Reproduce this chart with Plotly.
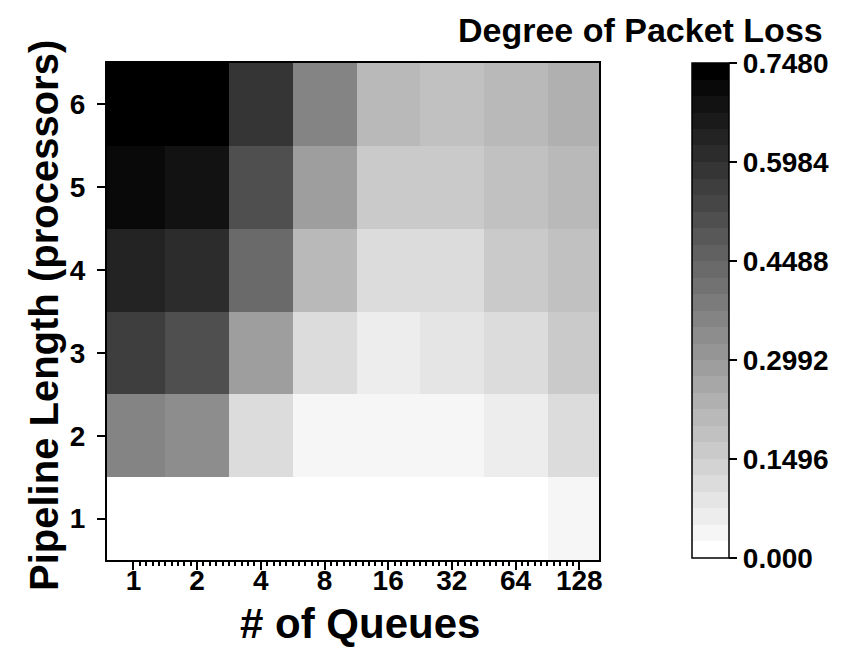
import numpy as np
import plotly.graph_objects as go

# ---- data ----
queues = [1, 2, 4, 8, 16, 32, 64, 128]
queue_labels = ["1", "2", "4", "8", "16", "32", "64", "128"]
pipeline = [1, 2, 3, 4, 5, 6]
loss_p1 = [0.0, 0.0, 0.0, 0.0, 0.0, 0.0, 0.0, 0.037]
loss_p2 = [0.362, 0.337, 0.112, 0.037, 0.037, 0.037, 0.062, 0.112]
loss_p3 = [0.561, 0.511, 0.287, 0.112, 0.062, 0.087, 0.112, 0.162]
loss_p4 = [0.636, 0.611, 0.436, 0.212, 0.112, 0.112, 0.162, 0.187]
loss_p5 = [0.711, 0.686, 0.511, 0.287, 0.162, 0.162, 0.187, 0.212]
loss_p6 = [0.736, 0.736, 0.586, 0.362, 0.212, 0.187, 0.212, 0.237]
cbar_vals = [0.0, 0.1496, 0.2992, 0.4488, 0.5984, 0.748]
cbar_text = ["0.000", "0.1496", "0.2992", "0.4488", "0.5984", "0.7480"]
z_max = 0.748
n_levels = 30

z = [loss_p1, loss_p2, loss_p3, loss_p4, loss_p5, loss_p6]
xpos = np.log2(queues)

# stepped grey colorscale
cs = []
for k in range(n_levels):
    g = int(round(255 * (1 - k / (n_levels - 1))))
    c = f"rgb({g},{g},{g})"
    cs.append([k / n_levels, c])
    cs.append([(k + 1) / n_levels, c])

FONT = "Liberation Sans, Arial, sans-serif"

def f(size):
    return dict(family=FONT, size=size, color="black", weight="bold")

minor_vals = [i + k / 10 for i in range(7) for k in range(1, 10)]

L, T, W, H = 99, 55, 492, 497

fig = go.Figure(go.Heatmap(
    x=xpos, y=pipeline, z=z,
    zmin=0, zmax=z_max, colorscale=cs,
    colorbar=dict(
        x=(684 - L) / W, xanchor="left",
        y=(552 - 550) / H, yanchor="bottom",
        len=495 / H, lenmode="fraction",
        thickness=37, thicknessmode="pixels",
        xpad=0, ypad=0,
        outlinecolor="black", outlinewidth=1.5,
        tickmode="array", tickvals=cbar_vals, ticktext=cbar_text,
        ticks="outside", ticklen=8, tickwidth=2, tickcolor="black",
        tickfont=f(28),
    ),
))

fig.update_layout(
    width=848, height=647,
    margin=dict(l=L, r=848 - L - W, t=T, b=647 - T - H),
    paper_bgcolor="white", plot_bgcolor="white",
    font=f(28),
    xaxis=dict(
        range=[-0.415, 7.31],
        tickmode="array", tickvals=xpos, ticktext=queue_labels,
        ticks="outside", ticklen=8, tickwidth=2, tickcolor="black",
        tickfont=f(28), ticklabelstandoff=-14,
        showline=True, linecolor="black", linewidth=2, mirror=True,
        showgrid=False, zeroline=False,
        minor=dict(tickmode="array", tickvals=minor_vals, ticks="outside",
                   ticklen=4, tickwidth=1.5, tickcolor="black", showgrid=False),
    ),
    yaxis=dict(
        range=[0.5, 6.5],
        tickmode="array", tickvals=pipeline,
        ticks="outside", ticklen=8, tickwidth=2, tickcolor="black",
        tickfont=f(28), ticklabelstandoff=6,
        showline=True, linecolor="black", linewidth=2, mirror=True,
        showgrid=False, zeroline=False,
    ),
    annotations=[
        dict(text="# of Queues", xref="paper", yref="paper",
             x=(352 - L) / W, y=-(641 - 552) / H,
             xanchor="center", yanchor="bottom", showarrow=False, font=f(42)),
        dict(text="Pipeline Length (processors)", xref="paper", yref="paper",
             x=(36 - L) / W, y=(552 - 308) / H, textangle=-90,
             xanchor="center", yanchor="middle", showarrow=False, font=f(40)),
        dict(text="Degree of Packet Loss", xref="paper", yref="paper",
             x=(817 - L) / W, y=(552 - 1) / H,
             xanchor="right", yanchor="top", showarrow=False, font=f(34)),
    ],
)

fig.write_html("out.html")
